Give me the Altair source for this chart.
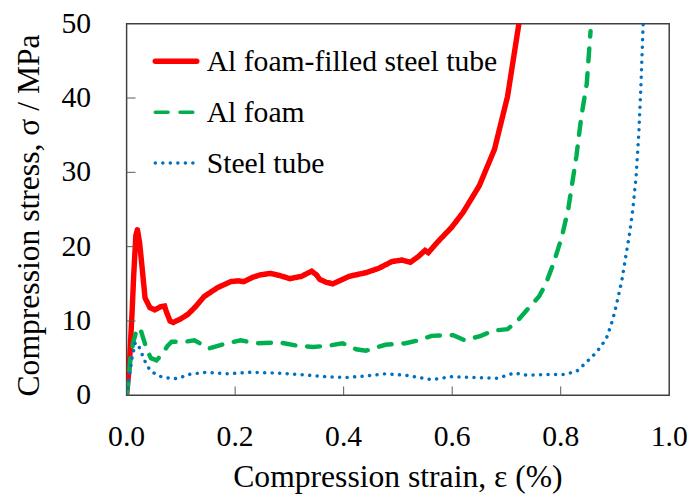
import altair as alt
import pandas as pd

# Al foam-filled steel tube
red_x = [0, 0.005, 0.010, 0.013, 0.017, 0.020, 0.024, 0.028, 0.034, 0.043, 0.052, 0.062, 0.070, 0.073,
         0.080, 0.086, 0.100, 0.113, 0.128, 0.143, 0.168, 0.192, 0.205, 0.216, 0.233, 0.246, 0.265,
         0.283, 0.301, 0.322, 0.341, 0.350, 0.356, 0.368, 0.380, 0.395, 0.410, 0.441, 0.465, 0.489,
         0.508, 0.523, 0.538, 0.550, 0.556, 0.574, 0.599, 0.620, 0.650, 0.678, 0.702, 0.723]
red_y = [0, 4.0, 11.0, 16.0, 21.5, 22.3, 20.5, 17.6, 13.1, 11.8, 11.5, 11.9, 12.0, 11.3,
         10.0, 9.8, 10.3, 10.9, 12.0, 13.3, 14.5, 15.3, 15.4, 15.3, 15.9, 16.2, 16.4,
         16.1, 15.7, 16.0, 16.7, 16.2, 15.6, 15.2, 15.0, 15.5, 16.0, 16.5, 17.1, 18.0,
         18.2, 17.9, 18.7, 19.5, 19.2, 20.7, 22.6, 24.6, 28.2, 33.1, 40.2, 50.0]

# Al foam
green_x = [0, 0.004, 0.007, 0.012, 0.018, 0.022, 0.026, 0.031, 0.038, 0.045, 0.055, 0.065, 0.075,
           0.083, 0.107, 0.125, 0.140, 0.152, 0.165, 0.180, 0.210, 0.240, 0.283, 0.313, 0.344, 0.374,
           0.398, 0.423, 0.441, 0.477, 0.514, 0.538, 0.562, 0.602, 0.623, 0.653, 0.675, 0.702, 0.720,
           0.744, 0.760, 0.772, 0.787, 0.802, 0.814, 0.829, 0.838, 0.848, 0.855]
green_y = [0, 2.5, 4.9, 7.0, 8.7, 9.1, 8.8, 7.6, 6.0, 5.0, 4.7, 5.5, 6.6,
           7.2, 7.2, 7.4, 6.8, 6.3, 6.6, 6.9, 7.4, 7.0, 7.1, 6.7, 6.5, 6.7,
           7.0, 6.2, 6.0, 6.8, 7.0, 7.4, 8.0, 8.1, 7.4, 8.0, 8.7, 8.9, 10.0,
           12.0, 13.3, 14.9, 17.8, 21.3, 25.1, 32.2, 37.5, 41.9, 49.0]

# Steel tube
blue_x = [0, 0.005, 0.010, 0.016, 0.022, 0.028, 0.035, 0.043, 0.054, 0.064, 0.086, 0.100, 0.113,
          0.146, 0.186, 0.228, 0.277, 0.319, 0.368, 0.404, 0.441, 0.477, 0.514, 0.562, 0.599, 0.641,
          0.684, 0.714, 0.738, 0.775, 0.805, 0.829, 0.848, 0.866, 0.884, 0.896, 0.905, 0.913, 0.920,
          0.927, 0.933, 0.939, 0.944, 0.948, 0.952]
blue_y = [0, 2.5, 5.0, 7.1, 6.7, 5.6, 4.4, 3.4, 2.8, 2.5, 2.2, 2.4, 2.8,
          3.1, 2.9, 3.1, 3.0, 2.8, 2.5, 2.4, 2.6, 2.9, 2.7, 2.1, 2.5, 2.4,
          2.3, 3.0, 2.7, 2.8, 2.8, 3.2, 4.5, 5.8, 7.6, 10.2, 12.9, 15.6, 18.7,
          21.8, 25.1, 29.5, 35.3, 41.9, 50.0]

series = ["Al foam-filled steel tube", "Al foam", "Steel tube"]
colors = ["#FF0000", "#00B050", "#0070C0"]
dashes = [[1, 0], [13, 12], [0.1, 7.5]]
widths = [5.5, 3.5, 3.5]

x_ticks = [0.0, 0.2, 0.4, 0.6, 0.8, 1.0]
y_ticks = [0, 10, 20, 30, 40, 50]
x_inner_ticks = [0.2, 0.4, 0.6, 0.8]
y_inner_ticks = [10, 20, 30, 40]
x_title = "Compression strain, ε (%)"
y_title = "Compression stress, σ / MPa"

rows = []
for name, xs, ys in zip(series, [red_x, green_x, blue_x], [red_y, green_y, blue_y]):
    for i, (xv, yv) in enumerate(zip(xs, ys)):
        rows.append({"series": name, "strain": xv, "stress": yv, "idx": i})
df = pd.DataFrame(rows)

W, H = 549, 376
FONT = "Liberation Serif"

xscale = alt.Scale(domain=[0, 1], nice=False)
yscale = alt.Scale(domain=[0, 50], nice=False)

lines = alt.Chart(df).mark_line(clip=True, strokeCap="round").encode(
    x=alt.X("strain:Q", scale=xscale, axis=None),
    y=alt.Y("stress:Q", scale=yscale, axis=None),
    color=alt.Color("series:N", scale=alt.Scale(domain=series, range=colors), legend=None),
    strokeDash=alt.StrokeDash("series:N", scale=alt.Scale(domain=series, range=dashes), legend=None),
    strokeWidth=alt.StrokeWidth("series:N", scale=alt.Scale(domain=series, range=widths), legend=None),
    order=alt.Order("idx:Q"),
)

# inward tick marks
yticks = alt.Chart(pd.DataFrame({"v": y_inner_ticks})).mark_rule(color="#595959", strokeWidth=1).encode(
    y=alt.Y("v:Q", scale=yscale, axis=None),
    x=alt.value(0), x2=alt.value(9),
)
xticks = alt.Chart(pd.DataFrame({"v": x_inner_ticks})).mark_rule(color="#595959", strokeWidth=1).encode(
    x=alt.X("v:Q", scale=xscale, axis=None),
    y=alt.value(H), y2=alt.value(H - 9),
)

# tick labels
xlabels = alt.Chart(pd.DataFrame({"v": x_ticks})).mark_text(
    font=FONT, fontSize=30, color="black", align="center", baseline="top"
).encode(
    x=alt.X("v:Q", scale=xscale, axis=None),
    y=alt.value(H + 27),
    text=alt.Text("v:Q", format=".1f"),
)
ylabels = alt.Chart(pd.DataFrame({"v": y_ticks})).mark_text(
    font=FONT, fontSize=30, color="black", align="right", baseline="middle"
).encode(
    y=alt.Y("v:Q", scale=yscale, axis=None),
    x=alt.value(-36),
    text=alt.Text("v:Q", format="d"),
)

# axis titles
xtitle = alt.Chart(pd.DataFrame({"t": [x_title]})).mark_text(
    font=FONT, fontSize=32, color="black", align="center", baseline="alphabetic"
).encode(x=alt.value(W / 2), y=alt.value(H + 93), text="t:N")
ytitle = alt.Chart(pd.DataFrame({"t": [y_title]})).mark_text(
    font=FONT, fontSize=32, color="black", align="center", baseline="alphabetic", angle=270
).encode(x=alt.value(-89), y=alt.value(H / 2 + 6), text="t:N")

# legend (inside plot, top-left)
legend_layers = []
for i, (name, col, dash, wd) in enumerate(zip(series, colors, dashes, widths)):
    ldf = pd.DataFrame({"series": [name]})
    ry = 38 + 51.5 * i
    legend_layers.append(
        alt.Chart(ldf).mark_rule(color=col, strokeDash=dash, strokeWidth=wd, strokeCap="round").encode(
            x=alt.value(29), x2=alt.value(71), y=alt.value(ry))
    )
    legend_layers.append(
        alt.Chart(ldf).mark_text(font=FONT, fontSize=30, color="black", align="left",
                                 baseline="middle").encode(
            x=alt.value(81), y=alt.value(ry + 1), text="series:N")
    )

chart = alt.layer(lines, yticks, xticks, xlabels, ylabels, xtitle, ytitle, *legend_layers).properties(
    width=W, height=H,
    autosize=alt.AutoSizeParams(type="none"),
    padding={"left": 120, "top": 13, "right": 19, "bottom": 100},
).configure_view(
    stroke="#404040", strokeWidth=1.5
)

chart.save("out.html", embed_options={"renderer": "svg", "actions": False})
